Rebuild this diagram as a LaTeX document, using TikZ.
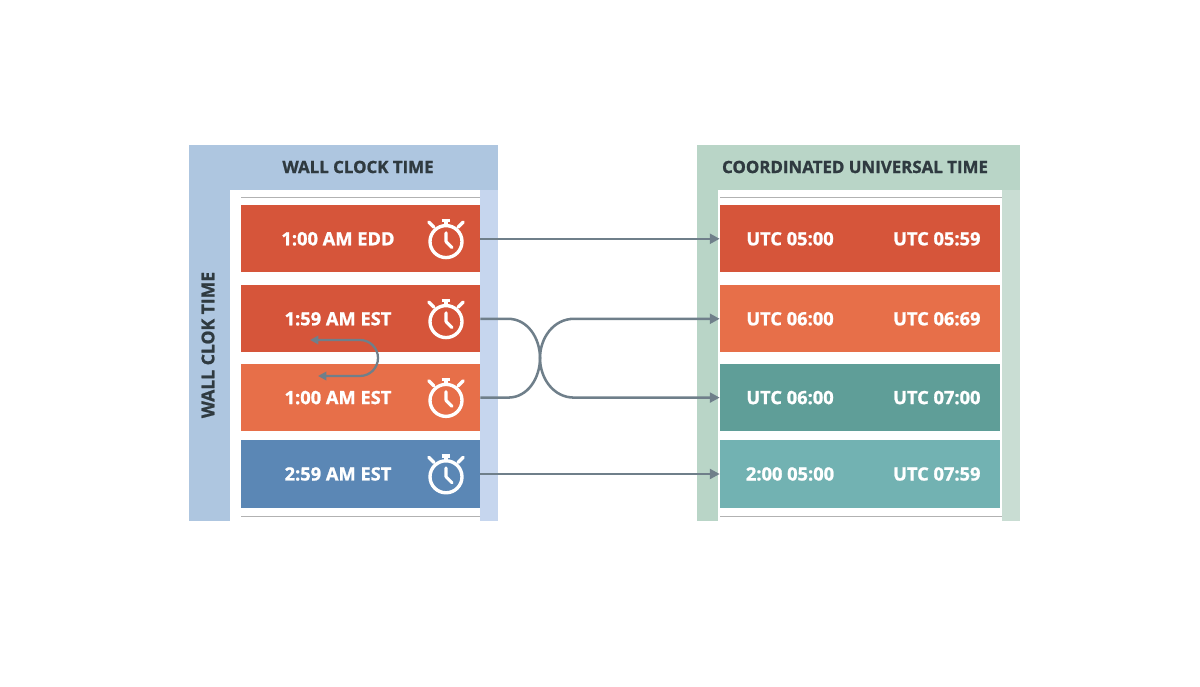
\documentclass[tikz,border=0pt]{standalone}
\usepackage{fontspec}
\setmainfont{Open Sans}[FakeBold=1.2]
\usetikzlibrary{positioning,arrows.meta,calc}
\definecolor{wallblue}{HTML}{AEC6E0}
\definecolor{wallstrip}{HTML}{C6D6EE}
\definecolor{utcgreen}{HTML}{B9D5C7}
\definecolor{utcstrip}{HTML}{C9DDD3}
\definecolor{redrow}{HTML}{D6553A}
\definecolor{orangerow}{HTML}{E76F49}
\definecolor{bluerow}{HTML}{5B87B5}
\definecolor{tealrow}{HTML}{5F9E98}
\definecolor{aquarow}{HTML}{72B2B2}
\definecolor{linkgray}{HTML}{6F7F8A}
\definecolor{headtext}{HTML}{2F3A40}
\newcommand{\stopwatch}[1]{%
  \draw[white, line width=2.4pt] (#1) circle (0.4);
  \draw[white, line width=2.2pt, line cap=round] (#1) -- ++(0,0.22) (#1) -- ++(0.15,-0.15);
  \draw[white, line width=2.4pt] ($(#1)+(0,0.4)$) -- ++(0,0.1) ($(#1)+(-0.11,0.52)$) -- ++(0.22,0);
  \draw[white, line width=2.4pt, line cap=round] ($(#1)+(-0.3,0.36)$) -- ++(-0.13,0.13) ($(#1)+(0.3,0.36)$) -- ++(0.13,0.13);
}
\begin{document}
\begin{tikzpicture}[
    row/.style={rectangle, minimum height=1.68cm, inner sep=0pt},
    wallrow/.style={row, minimum width=5.98cm},
    utcrow/.style={row, minimum width=7cm},
    rowtext/.style={text=white, font=\bfseries\fontsize{13}{15}\selectfont},
    head/.style={text=headtext, font=\bfseries\fontsize{12}{14}\selectfont},
    link/.style={draw=linkgray, line width=1.8pt, -{Triangle[length=7pt,width=7pt]}},
    link0/.style={draw=linkgray, line width=1.8pt}
]
    \useasboundingbox (0,0) rectangle (30,17.15);
    % panels
    \fill[wallblue] (4.725,4.125) rectangle (12.45,13.525);
    \fill[white] (5.75,4.125) rectangle (12.0,12.4);
    \fill[wallstrip] (12.0,4.125) rectangle (12.45,12.4);
    \draw[gray!60] (6.025,12.225) -- (12.0,12.225) (6.025,4.25) -- (12.0,4.25);
    \fill[utcgreen] (17.425,4.125) rectangle (25.5,13.525);
    \fill[white] (17.95,4.125) rectangle (25.05,12.4);
    \fill[utcstrip] (25.05,4.125) rectangle (25.5,12.4);
    \draw[gray!60] (18.0,12.225) -- (25.05,12.225) (18.0,4.25) -- (25.05,4.25);
    \node[head] (wallhead) at (8.95,12.975) {WALL CLOCK TIME};
    \node[head] (utchead) at (21.375,12.975) {COORDINATED UNIVERSAL TIME};
    \node[head, rotate=90, font=\bfseries\fontsize{12.5}{14}\selectfont] (wallside) at (5.2,8.525) {WALL CLOK TIME};

    % wall clock rows
    \node[wallrow, fill=redrow] (w1) at (9.01,11.18) {};
    \node[wallrow, fill=redrow] (w2) at (9.01,9.18) {};
    \node[wallrow, fill=orangerow] (w3) at (9.01,7.21) {};
    \node[wallrow, fill=bluerow] (w4) at (9.01,5.3) {};
    \foreach \r/\t in {w1/1:00 AM EDD, w2/1:59 AM EST, w3/1:00 AM EST, w4/2:59 AM EST} {
        \node[rowtext] at ($(\r.center)+(-0.56,0)$) {\t};
        \coordinate (\r clock) at ($(\r.center)+(2.14,-0.07)$);
        \stopwatch{\r clock}
    }

    % utc rows
    \node[utcrow, fill=redrow] (u1) at (21.5,11.18) {};
    \node[utcrow, fill=orangerow] (u2) at (21.5,9.18) {};
    \node[utcrow, fill=tealrow] (u3) at (21.5,7.21) {};
    \node[utcrow, fill=aquarow] (u4) at (21.5,5.3) {};
    \foreach \r/\a/\b in {u1/UTC 05:00/UTC 05:59, u2/UTC 06:00/UTC 06:69, u3/UTC 06:00/UTC 07:00, u4/2:00 05:00/UTC 07:59} {
        \node[rowtext] at ($(\r.center)+(-1.75,0)$) {\a};
        \node[rowtext] at ($(\r.center)+(1.92,0)$) {\b};
    }

    % fall back loop
    \coordinate (loopa) at (7.75,8.65);
    \coordinate (loopb) at (7.95,7.75);
    \draw[draw=linkgray, line width=1.6pt, {Triangle[length=6pt,width=6pt]}-{Triangle[length=6pt,width=6pt]}]
        (loopa) -- (9.0,8.65) arc (90:-90:0.45) -- (loopb);

    % connectors
    \draw[link] (w1.east) -- (u1.west);
    \draw[link] (w4.east) -- (u4.west);
    \coordinate (cross) at (13.5,8.2);
    \draw[link0] (w2.east) -- (12.7,9.18) to[out=0,in=90] (cross) to[out=-90,in=0] (12.7,7.21) -- (w3.east);
    \draw[link] (cross) to[out=90,in=180] (14.35,9.18) -- (u2.west);
    \draw[link] (cross) to[out=-90,in=180] (14.35,7.21) -- (u3.west);
\end{tikzpicture}
\end{document}
